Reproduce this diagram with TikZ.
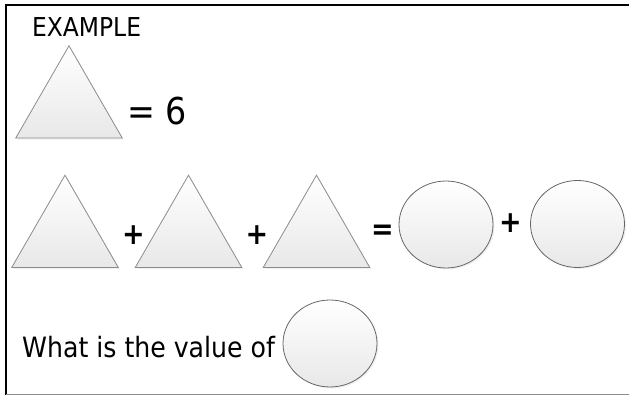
\documentclass[tikz,border=0pt]{standalone}
\usepackage{fontspec}
\setmainfont{DejaVu Sans Condensed}
\usepackage{tikz}
\usetikzlibrary{shapes.geometric,shadows,positioning}

\begin{document}
\begin{tikzpicture}[x=1pt, y=-1pt,
    tri/.style={draw=black!45, line width=0.8pt, regular polygon, regular polygon sides=3, inner sep=0pt, minimum size=123pt, top color=white, bottom color=black!9, drop shadow={opacity=0.12, shadow xshift=1.5pt, shadow yshift=-1.5pt}},
    ball/.style={draw=black!60, line width=0.8pt, ellipse, inner sep=0pt, minimum width=94pt, minimum height=87pt, top color=white, bottom color=black!9, drop shadow={opacity=0.12, shadow xshift=1.5pt, shadow yshift=-1.5pt}},
    sign/.style={font=\fontsize{30}{30}\selectfont\bfseries, inner sep=0pt},
    label/.style={inner sep=0pt, anchor=base west},
    frame/.style={line width=2pt, black}
]

\useasboundingbox (0,0) rectangle (629,395);

% frame
\draw[frame] (6,395) -- (6,5) -- (632,5);
\draw[black!45, line width=1pt] (6,394) -- (632,394);

% example row
\node[label, font=\fontsize{26}{30}\selectfont] (ex) at (32,37) {EXAMPLE};
\node[tri] (t0) at (69,107.3) {};
\node[label, font=\fontsize{37}{40}\selectfont] (six) at (127,125) {= 6};

% sum row
\node[tri] (t1) at (65,236.7) {};
\node[tri] (t2) at (188.5,236.7) {};
\node[tri] (t3) at (316.5,236.7) {};
\node[ball] (c1) at (446,224.5) {};
\node[ball] (c2) at (577.5,224) {};

\node[sign] (p1) at (133.5,235) {+};
\node[sign] (p2) at (257,235) {+};
\node[sign] (eq) at (382.5,232) {=};
\node[sign] (p3) at (510.5,223) {+};

% question row
\node[label, font=\fontsize{28}{32}\selectfont] (ask) at (22,357) {What is the value of};
\node[ball] (c3) at (330,343.5) {};

\end{tikzpicture}
\end{document}
